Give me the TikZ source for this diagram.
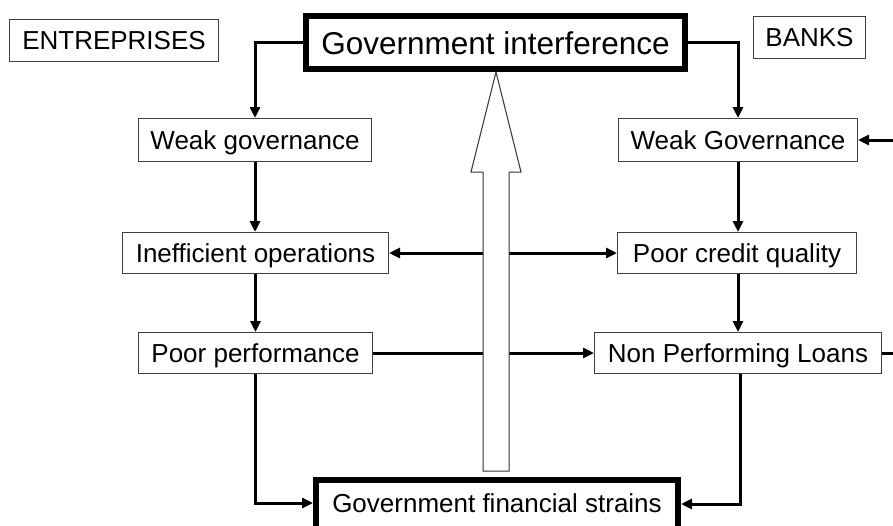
\documentclass[tikz,border=0pt]{standalone}
\usepackage{fontspec}
\setmainfont{Liberation Sans}
\usetikzlibrary{arrows.meta}
\begin{document}
\begin{tikzpicture}[x=1pt,y=-1pt,
  thinbox/.style={draw=black!75,line width=1pt,fill=white,inner sep=0pt,
    text height=20pt,text depth=1.2pt,
    font=\fontsize{26}{30}\selectfont},
  thickbox/.style={draw=black,line width=6pt,fill=white,inner sep=0pt},
  conn/.style={line width=3pt,-{Triangle[length=11pt,width=10pt]}},
  conn2/.style={line width=3pt,{Triangle[length=11pt,width=10pt]}-{Triangle[length=11pt,width=10pt]}},
  hollow/.style={draw=black!80,line width=1pt,fill=white}]
\useasboundingbox (0,0) rectangle (893,525);
% nodes
\node[thinbox,minimum width=209pt,minimum height=42pt] (ent) at (114,40.5) {ENTREPRISES};
\node[thinbox,minimum width=112pt,minimum height=42pt] (banks) at (809.5,37.5) {BANKS};
\node[thickbox,minimum width=379pt,minimum height=53pt,text height=24pt,text depth=0.5pt,font=\fontsize{31.5}{36}\selectfont] (gi) at (495.5,42.5) {Government interference};
\node[thinbox,minimum width=233pt,minimum height=43pt] (wgl) at (255,140) {Weak governance};
\node[thinbox,minimum width=239pt,minimum height=43pt] (wgr) at (738,140) {Weak Governance};
\node[thinbox,minimum width=266pt,minimum height=41pt] (io) at (255.5,253) {Inefficient operations};
\node[thinbox,minimum width=234pt,minimum height=41pt] (pp) at (255.5,353) {Poor performance};
\node[thinbox,minimum width=239pt,minimum height=41pt] (pcq) at (737,253) {Poor credit quality};
\node[thinbox,minimum width=287pt,minimum height=41pt] (npl) at (738,353) {Non Performing Loans};
\node[thickbox,minimum width=362pt,minimum height=60pt,text height=12pt,text depth=7.4pt,font=\fontsize{26}{30}\selectfont] (gfs) at (497,510) {Government financial strains};
\coordinate (gfsl) at (gfs.west |- 0,503);
\coordinate (gfsr) at (gfs.east |- 0,504);
% connectors
\draw[conn] (gi.west) -- (wgl.north |- gi.west) -- (wgl.north);
\draw[conn] (gi.east) -- (wgr.north |- gi.east) -- (wgr.north);
\draw[conn] (wgl.south) -- (io.north -| wgl.south);
\draw[conn] (io.south -| pp.north) -- (pp.north);
\draw[conn] (wgr.south) -- (pcq.north -| wgr.south);
\draw[conn] (pcq.south -| wgr.south) -- (npl.north -| wgr.south);
\draw[conn2] (io.east) -- (pcq.west);
\draw[conn] (pp.east) -- (npl.west);
\draw[conn] (pp.south -| wgl.south) |- (gfsl);
\draw[conn] (npl.south -| 740,0) |- (gfsr);
\coordinate (outr) at (910,353);
\draw[conn] (npl.east) -- (outr) |- (wgr.east);
% hollow arrow
\draw[hollow] (483,471) -- (483,172) -- (471,172) -- (496,72) -- (521,172) -- (509,172) -- (509,471) -- cycle;
\end{tikzpicture}
\end{document}
